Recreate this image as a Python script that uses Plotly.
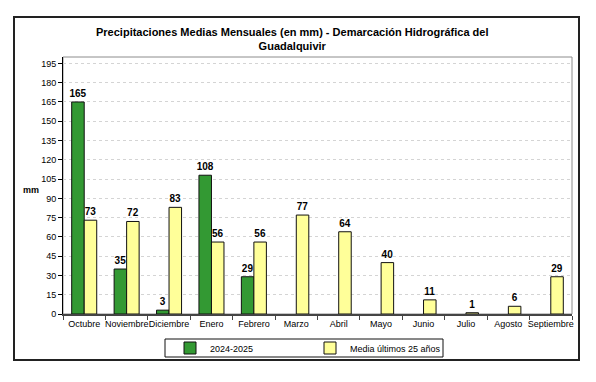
import plotly.graph_objects as go

months = ["Octubre", "Noviembre", "Diciembre", "Enero", "Febrero", "Marzo",
          "Abril", "Mayo", "Junio", "Julio", "Agosto", "Septiembre"]
serie_2024_2025 = [165, 35, 3, 108, 29, None, None, None, None, None, None, None]
media_25_anos = [73, 72, 83, 56, 56, 77, 64, 40, 11, 1, 6, 29]
y_ticks = list(range(0, 196, 15))

FONT = "Liberation Sans, Arial, sans-serif"

fig = go.Figure()
fig.add_trace(go.Bar(
    x=months, y=serie_2024_2025, name="2024-2025",
    marker=dict(color="#339933", line=dict(color="#111111", width=1)),
    texttemplate="<b>%{y}</b>", textposition="outside", constraintext="none",
    textfont=dict(size=10, color="#000000", family=FONT), cliponaxis=False,
))
fig.add_trace(go.Bar(
    x=months, y=media_25_anos, name="Media últimos 25 años",
    marker=dict(color="#FFFF99", line=dict(color="#111111", width=1)),
    texttemplate="<b>%{y}</b>", textposition="outside", constraintext="none",
    textfont=dict(size=10, color="#000000", family=FONT), cliponaxis=False,
))

# page body has an 8px default margin; compensate
OFF = 8
W, H = 596 - OFF, 382 - OFF
L, T = 63 - OFF, 57 - OFF
R = W - (572 - OFF)
B = H - (314 - OFF)
pw, ph = W - L - R, H - T - B

def px_x(x):
    return (x - OFF - L) / pw

def px_y(y):
    return (H - B - (y - OFF)) / ph

fig.update_layout(
    width=W, height=H,
    margin=dict(l=L, r=R, t=T, b=B, autoexpand=False),
    paper_bgcolor="white", plot_bgcolor="white",
    font=dict(family=FONT, size=9, color="#000000"),
    barmode="group", bargap=0.41, bargroupgap=0,
    showlegend=True,
    legend=dict(
        orientation="h", x=px_x(170), xanchor="left", y=px_y(348), yanchor="middle",
        entrywidth=95, entrywidthmode="pixels", itemwidth=30,
        bgcolor="rgba(0,0,0,0)", borderwidth=0,
        font=dict(size=9, family=FONT, color="#000000"),
        traceorder="normal",
    ),
    xaxis=dict(
        type="category", showline=True, linecolor="#444444", linewidth=2,
        ticks="outside", tickson="boundaries", ticklen=4, tickcolor="#444444",
        showgrid=False, tickfont=dict(size=9), tickangle=0, automargin=False,
    ),
    yaxis=dict(
        range=[0, 200], tickvals=y_ticks, showline=True, linecolor="#000000", linewidth=1,
        ticks="outside", ticklen=4, tickcolor="#000000",
        showgrid=True, gridcolor="#d4d4d4", griddash="dot", gridwidth=1,
        zeroline=False, tickfont=dict(size=9), automargin=False,
    ),
    shapes=[
        # plot area frame
        dict(type="rect", xref="paper", yref="paper", x0=0, x1=1, y0=0, y1=1,
             line=dict(color="#8c8c8c", width=1), layer="below"),
        # outer frame
        dict(type="rect", xref="paper", yref="paper",
             x0=px_x(14), x1=px_x(579), y0=px_y(360), y1=px_y(17),
             line=dict(color="#222222", width=2)),
        # legend box
        dict(type="rect", xref="paper", yref="paper",
             x0=px_x(165), x1=px_x(443), y0=px_y(357), y1=px_y(339),
             line=dict(color="#111111", width=1)),
    ],
    annotations=[
        dict(text="<b>Precipitaciones Medias Mensuales (en mm) - Demarcación Hidrográfica del<br>Guadalquivir</b>",
             xref="paper", yref="paper", x=px_x(292), y=px_y(24), xanchor="center", yanchor="top",
             showarrow=False, align="center",
             font=dict(size=11, family=FONT, color="#000000")),
        dict(text="<b>mm</b>", xref="paper", yref="paper", x=px_x(21), y=px_y(190),
             xanchor="left", yanchor="middle",
             showarrow=False, font=dict(size=9, family=FONT, color="#000000")),
    ],
)

fig.write_html("out.html")
